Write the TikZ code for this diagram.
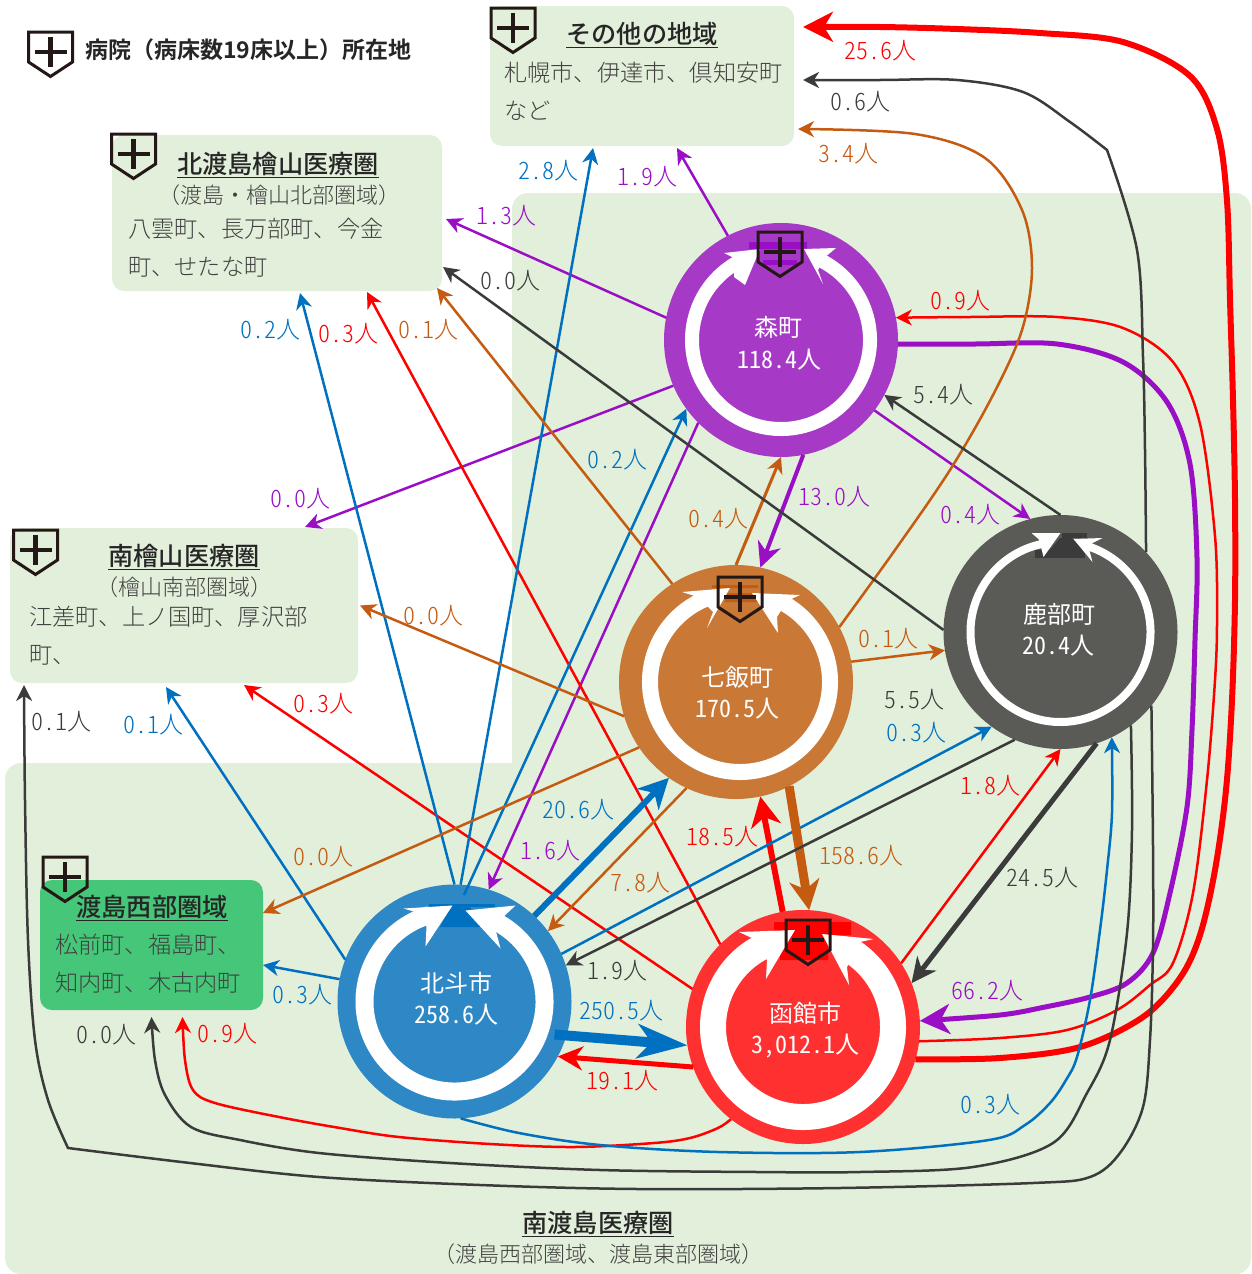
\documentclass[tikz,border=0pt]{standalone}
\usepackage{fontspec}
\setmainfont[RawFeature=+hwid]{Noto Sans CJK JP Light}
\newfontfamily\jpfull{Noto Sans CJK JP Light}
\newfontfamily\jpmed{Noto Sans CJK JP Medium}
\newfontfamily\jpbold{Noto Sans CJK JP Bold}
\newfontfamily\jpreg[RawFeature=+hwid]{Noto Sans CJK JP}
\usetikzlibrary{arrows.meta,calc}
\definecolor{bgreen}{HTML}{E2EFDA}
\definecolor{dgreen}{HTML}{45C678}
\definecolor{cred}{HTML}{FF0000}
\definecolor{cblue}{HTML}{0070C0}
\definecolor{cpur}{HTML}{9A0FC6}
\definecolor{cbrn}{HTML}{C55A11}
\definecolor{cdrk}{HTML}{3B3B3B}
\definecolor{cshield}{HTML}{231815}
\definecolor{fmori}{HTML}{A63AC6}
\definecolor{fnana}{HTML}{C97836}
\definecolor{fshik}{HTML}{5A5A56}
\definecolor{fhoku}{HTML}{2E88C6}
\definecolor{fhako}{HTML}{FF3030}
\definecolor{ctext}{HTML}{404040}
\tikzset{
  town/.style={circle,minimum size=234pt,inner sep=0pt,outer sep=0pt,draw=none,fill=#1},
  areabox/.style={rectangle,rounded corners=12pt,inner sep=0pt,outer sep=0pt,fill=#1},
  lbl/.style={inner sep=0pt,yshift=-1pt,font=\fontsize{24}{24}\selectfont},
  towntxt/.style={inner sep=0pt,text=white,font=\fontsize{24}{24}\jpreg\selectfont},
  title/.style={inner sep=0pt,yshift=-2pt,text=black!85,font=\fontsize{25.2}{26}\jpmed\selectfont},
  subtitle/.style={inner sep=0pt,yshift=-1pt,text=ctext,font=\fontsize{22}{22}\jpfull\selectfont},
  body/.style={inner sep=0pt,yshift=-1pt,anchor=west,text=ctext,font=\fontsize{23.2}{24}\jpfull\selectfont},
  tipS/.style={-{Stealth[length=16pt,width=16pt,inset=5pt]}},
  tipM/.style={-{Stealth[length=25pt,width=24pt,inset=8pt]}},
  tipL/.style={-{Stealth[length=30pt,width=30pt,inset=9pt]}},
  tipXL/.style={-{Stealth[length=50pt,width=34pt,inset=14pt]}},
  flow/.style={line width=#1,line cap=butt},
}
\newcounter{lb}
\newcommand\lab[4]{\stepcounter{lb}\node[lbl,text=#3] (lab\thelb) at (#1,#2) {#4};}
% ring centre, r mid, width, end angle L, end angle R, left head, right head
\newcommand\ringmark[7]{%
  \begin{scope}[shift={(#1)}]
    \draw[white,line width=#3pt] (#4:#2pt) arc[start angle=#4,end angle=#5+360,radius=#2pt];
    \fill[white] #6 -- cycle;
    \fill[white] #7 -- cycle;
  \end{scope}}
\newcommand\shield[3]{%
  \begin{scope}[shift={(#2,#3)}]
    \draw[cshield,line width=3pt,line join=miter] (-22,0) -- (22,0) -- (22,30) -- (0,44.5) -- (-22,30) -- cycle;
    \draw[cshield,line width=4.5pt] (-16,20) -- (16,20) (0,5) -- (0,35);
  \end{scope}}
\begin{document}
\begin{tikzpicture}[x=1pt,y=-1pt]
\useasboundingbox (0,0) rectangle (1251,1274);
% region
\fill[bgreen,rounded corners=16pt] (512,193) rectangle (1251,1274);
\fill[bgreen,rounded corners=16pt] (5,763) rectangle (1251,1274);
% area boxes
\node[areabox=bgreen,minimum width=304pt,minimum height=140pt] (sonota) at (642,76) {};
\node[areabox=bgreen,minimum width=330pt,minimum height=156pt] (kita) at (277,213) {};
\node[areabox=bgreen,minimum width=348pt,minimum height=155pt] (minami) at (184,605.5) {};
\node[areabox=dgreen,minimum width=223pt,minimum height=130pt] (wata) at (151.5,945) {};
% towns
\node[town=fmori] (mori) at (781,340) {};
\node[town=fnana] (nana) at (736,682) {};
\node[town=fshik] (shik) at (1060.5,632) {};
\node[town=fhoku] (hoku) at (454.5,1001.5) {};
\node[town=fhako] (hako) at (803,1027) {};
% patches
\fill[cpur] (749,242) rectangle (807,249) (763,260) rectangle (797,265);
\fill[cbrn] (712,585) rectangle (758,588) (725,593) rectangle (758,602);
\fill[cblue] (429,904) rectangle (495,907);
\fill[cblue] (450,907) -- (470,907) -- (480,927) -- (440,927) -- cycle;
\fill[cdrk] (1062,533) rectangle (1087,538);
\fill[cdrk] (1035,550) rectangle (1085,558);
\fill[cdrk] (1060,538) -- (1072,538) -- (1085,552) -- (1048,552) -- cycle;
\fill[cred] (774,922) rectangle (851,935) (780,935) rectangle (828,960);
% rings
\ringmark{mori.center}{89}{14}{117}{66}
  {(-21,-91) -- (-57,-87) -- (-47,-82) -- (-47,-63) -- (-36,-55)}
  {(23,-91) -- (55,-92) -- (43,-82) -- (37,-70) -- (42,-56)}
\ringmark{740,682}{90}{16}{110}{63}
  {(-10,-94) -- (-58,-90) -- (-42,-85) -- (-27,-70) -- (-33,-54)}
  {(12,-89) -- (60,-87) -- (47,-81) -- (37,-65) -- (38,-49)}
\ringmark{shik.center}{90}{8}{100}{73}
  {(0,-99) -- (-29,-99) -- (-22,-93) -- (-20,-87) -- (-17,-75)}
  {(13,-93) -- (42,-94) -- (32,-89) -- (28,-85) -- (32,-70)}
\ringmark{hoku.center}{90}{18}{106}{63}
  {(-2,-96) -- (-51,-93) -- (-34,-88) -- (-28,-75) -- (-29,-55)}
  {(11,-91) -- (61,-96) -- (47,-83) -- (41,-72) -- (46,-53)}
\ringmark{hako.center}{90}{26}{115}{59}
  {(-8,-97) -- (-64,-95) -- (-49,-88) -- (-36,-67) -- (-37,-48)}
  {(19,-93) -- (71,-88) -- (57,-85) -- (44,-60) -- (46,-42)}
% shields
\shield{s0}{50.5}{32}
\shield{s1}{513}{8}
\shield{s2}{133.5}{134}
\shield{s3}{35.5}{530}
\shield{s4}{65}{857}
\shield{s5}{780}{232}
\shield{s6}{740}{577}
\shield{s7}{808}{920}
% purple
\draw[cpur,flow=2.5pt,tipS] (mori.117) -- ([shift={(35,2)}]sonota.south);
\draw[cpur,flow=2.5pt,tipS] (mori.169) -- ([shift={(4,6)}]kita.east);
\draw[cpur,flow=2.5pt,tipS] (mori.203) -- ([shift={(121,-1)}]minami.north);
\draw[cpur,flow=2.5pt,tipS] (mori.225) -- (hoku.73);
\draw[cpur,flow=4pt,tipM] (mori.281) -- (nana.78);
\draw[cpur,flow=2.5pt,tipS] (mori.323) -- (shik.105);
\draw[cpur,flow=5pt,tipL] plot[smooth,tension=.55] coordinates {(mori.358) (975,344) (1057,344) (1123,362) (1167,402) (1190,464) (1197,558) (1195,640) (1192,730) (1187,807) (1170,893) (1153,953) (1127,983) (1090,997) (1045,1007) (1000,1015) (hako.3)};
% red
\draw[cred,flow=6pt,tipL] plot[smooth,tension=.55] coordinates {(hako.344) (1000,1058) (1080,1047) (1143,1017) (1180,978) (1200,935) (1215,870) (1226,790) (1232,700) (1235,600) (1235,500) (1233,400) (1230,300) (1227,201) (1217,129) (1190,76) (1123,42) (1040,33) (957,29) (880,27) ([shift={(9,-49)}]sonota.east)};
\draw[cred,flow=2.5pt,tipS] plot[smooth,tension=.55] coordinates {(hako.353) (1000,1038) (1067,1030) (1117,1010) (1150,985) (1173,963) (1193,893) (1207,780) (1215,680) (1217,620) (1215,536) (1200,424) (1173,362) (1123,328) (1057,317) (970,317) (mori.11)};
\draw[cred,flow=2.5pt,tipS] (hako.135) -- ([shift={(90,1)}]kita.south);
\draw[cred,flow=2.5pt,tipS] (hako.161) -- ([shift={(60,2)}]minami.south);
\draw[cred,flow=5pt,tipM] (hako.200) -- (hoku.332);
\draw[cred,flow=6pt,tipL] (hako.100) -- (nana.282);
\draw[cred,flow=2.5pt,tipS] (hako.33) -- (shik.270);
\draw[cred,flow=2.5pt,tipS] plot[smooth,tension=.55] coordinates {(hako.232) (718,1128) (690,1138) (654,1143) (574,1147) (490,1144) (399,1137) (340,1128) (279,1117) (215,1103) (193,1090) (185,1060) ([shift={(31,7)}]wata.south)};
% blue
\draw[cblue,flow=2.5pt,tipS] (hoku.87) -- ([shift={(-49,2)}]sonota.south);
\draw[cblue,flow=2.5pt,tipS] (hoku.90) -- ([shift={(23,2)}]kita.south);
\draw[cblue,flow=2.5pt,tipS] (hoku.159) -- ([shift={(-18,4)}]minami.south);
\draw[cblue,flow=2.5pt,tipS] ([shift={(9.5,-106.5)}]hoku.center) -- (mori.216);
\draw[cblue,flow=6pt,tipL] (hoku.47) -- (nana.235);
\draw[cblue,flow=2.5pt,tipS] (hoku.169) -- ([shift={(0,20)}]wata.east);
\draw[cblue,flow=10pt,tipXL] ([shift={(100,33)}]hoku.center) -- (hako.189);
\draw[cblue,flow=2.5pt,tipS] (hoku.24) -- (shik.234);
\draw[cblue,flow=2.5pt,tipS] plot[smooth,tension=.55] coordinates {(hoku.273) (519,1133) (600,1145) (718,1152) (860,1152) (989,1140) (1025,1125) (1050,1103) (1066,1080) (1077,1057) (1090,1000) (1100,930) (1107,870) (1112,813) (shik.296)};
% brown
\draw[cbrn,flow=2.5pt,tipS] plot[smooth,tension=.55] coordinates {(nana.28) (895,550) (950,470) (993,395) (1022,330) (1032,268) (1022,210) (985,158) (915,134) ([shift={(4,53)}]sonota.east)};
\draw[cbrn,flow=2.5pt,tipS] (nana.123) -- ([shift={(160,-3)}]kita.south);
\draw[cbrn,flow=2.5pt,tipS] (nana.197) -- ([shift={(2,0)}]minami.east);
\draw[cbrn,flow=2.5pt,tipS] (nana.214) -- ([shift={(0,-32)}]wata.east);
\draw[cbrn,flow=2.5pt,tipS] (nana.245) -- (hoku.37);
\draw[cbrn,flow=3pt,tipS] (nana.90) -- (mori.270);
\draw[cbrn,flow=2.5pt,tipS] (nana.10) -- (shik.189);
\draw[cbrn,flow=9pt,tipL] (nana.297) -- (hako.87);
% dark
\draw[cdrk,flow=2.5pt,tipS] plot[smooth,tension=.55] coordinates {(shik.43) (1145,450) (1143,357) (1137,250) (1107,150)} -- plot[smooth,tension=.55] coordinates {(1107,150) (1070,122) (1023,92) (957,80) (880,80) ([shift={(9,4)}]sonota.east)};
\draw[cdrk,flow=2.5pt,tipS] (shik.179) -- ([shift={(1,54)}]kita.east);
\draw[cdrk,flow=2.5pt,tipS] (shik.90) -- (mori.332);
\draw[cdrk,flow=2.5pt,tipS] (shik.247) -- (hoku.18);
\draw[cdrk,flow=5pt,tipM] (shik.288) -- (hako.22);
\draw[cdrk,flow=2.5pt,tipS] plot[smooth,tension=.55] coordinates {(shik.307) (1132,830) (1127,933) (1110,1040) (1087,1093) (1053,1143) (973,1167) (860,1172) (758,1172) (600,1170) (450,1163) (319,1153) (240,1140) (191,1127) (165,1095) (155,1060) ([shift={(0,7)}]wata.south)};
\draw[cdrk,flow=2.5pt,tipS] plot[smooth,tension=.55] coordinates {(shik.321) (1153,847) (1153,947) (1150,1040) (1143,1107) (1120,1153) (1090,1177) (1033,1183) (840,1188) (638,1189) (480,1185) (319,1177) (190,1163) (68,1148)} -- plot[smooth,tension=.55] coordinates {(68,1148) (48,1100) (35,1040) (28,940) (25,800) ([shift={(-160,2)}]minami.south)};
% legend and area texts
\node[inner sep=0pt,anchor=west,text=black!85,font=\fontsize{23}{24}\jpbold\selectfont] (legend) at (85,50) {病院（病床数19床以上）所在地};
\node[title] (t1) at (642,33) {\underline{その他の地域}};
\node[body] (b1a) at (504,72) {札幌市、伊達市、倶知安町};
\node[body] (b1b) at (504,110) {など};
\node[title] (t2) at (278,163) {\underline{北渡島檜山医療圏}};
\node[subtitle] (st2) at (279,194) {（渡島・檜山北部圏域）};
\node[body] (b2a) at (128,228) {八雲町、長万部町、今金};
\node[body] (b2b) at (128,266) {町、せたな町};
\node[title] (t3) at (184,555) {\underline{南檜山医療圏}};
\node[subtitle] (st3) at (184,586) {（檜山南部圏域）};
\node[body] (b3a) at (29,616) {江差町、上ノ国町、厚沢部};
\node[body] (b3b) at (29,654) {町、};
\node[title] (t4) at (152,906) {\underline{渡島西部圏域}};
\node[body] (b4a) at (55,944) {松前町、福島町、};
\node[body] (b4b) at (55,982) {知内町、木古内町};
\node[title] (t5) at (598,1222) {\underline{南渡島医療圏}};
\node[subtitle] (st5) at (598,1253) {（渡島西部圏域、渡島東部圏域）};
% town texts
\node[towntxt] (morin) at (778,327) {森町};
\node[towntxt] (moriv) at (779,360) {118.4人};
\node[towntxt] (nanan) at (737,677) {七飯町};
\node[towntxt] (nanav) at (737,709) {170.5人};
\node[towntxt] (shikn) at (1059,614) {鹿部町};
\node[towntxt] (shikv) at (1058,646) {20.4人};
\node[towntxt] (hokun) at (456,983) {北斗市};
\node[towntxt] (hokuv) at (456,1015) {258.6人};
\node[towntxt] (hakon) at (805,1013) {函館市};
\node[towntxt] (hakov) at (805,1046) {3,012.1人};
% flow labels
\lab{880}{50}{cred}{25.6人}
\lab{860}{101}{cdrk}{0.6人}
\lab{848}{153}{cbrn}{3.4人}
\lab{548}{170}{cblue}{2.8人}
\lab{647}{176}{cpur}{1.9人}
\lab{506}{215}{cpur}{1.3人}
\lab{510}{280}{cdrk}{0.0人}
\lab{960}{300}{cred}{0.9人}
\lab{270}{329}{cblue}{0.2人}
\lab{348}{333}{cred}{0.3人}
\lab{428}{329}{cbrn}{0.1人}
\lab{943}{394}{cdrk}{5.4人}
\lab{617}{459}{cblue}{0.2人}
\lab{834}{496}{cpur}{13.0人}
\lab{300}{498}{cpur}{0.0人}
\lab{718}{518}{cbrn}{0.4人}
\lab{970}{514}{cpur}{0.4人}
\lab{433}{615}{cbrn}{0.0人}
\lab{888}{638}{cbrn}{0.1人}
\lab{914}{699}{cdrk}{5.5人}
\lab{323}{703}{cred}{0.3人}
\lab{61}{721}{cdrk}{0.1人}
\lab{153}{724}{cblue}{0.1人}
\lab{916}{732}{cblue}{0.3人}
\lab{990}{785}{cred}{1.8人}
\lab{578}{809}{cblue}{20.6人}
\lab{722}{836}{cred}{18.5人}
\lab{550}{850}{cpur}{1.6人}
\lab{861}{855}{cbrn}{158.6人}
\lab{323}{856}{cbrn}{0.0人}
\lab{1042}{877}{cdrk}{24.5人}
\lab{640}{882}{cbrn}{7.8人}
\lab{617}{970}{cdrk}{1.9人}
\lab{987}{990}{cpur}{66.2人}
\lab{302}{994}{cblue}{0.3人}
\lab{621}{1010}{cblue}{250.5人}
\lab{106}{1034}{cdrk}{0.0人}
\lab{227}{1033}{cred}{0.9人}
\lab{622}{1080}{cred}{19.1人}
\lab{990}{1104}{cblue}{0.3人}
\end{tikzpicture}
\end{document}
